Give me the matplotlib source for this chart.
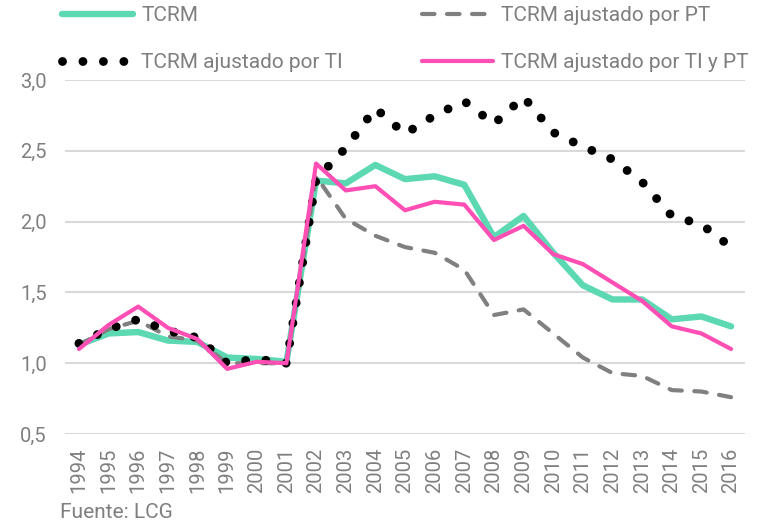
# TCRM y versiones ajustadas, 1994-2016

import matplotlib.pyplot as plt
from matplotlib.ticker import FixedLocator, FixedFormatter

# Data
years = list(range(1994, 2017))
tcrm = [1.13, 1.21, 1.22, 1.16, 1.15, 1.04, 1.03, 1.01, 2.29, 2.27, 2.40, 2.30,
        2.32, 2.26, 1.89, 2.04, 1.78, 1.55, 1.45, 1.45, 1.31, 1.33, 1.26]
tcrm_pt = [1.13, 1.24, 1.30, 1.19, 1.16, 1.00, 1.00, 1.00, 2.32, 2.02, 1.90, 1.82,
           1.78, 1.66, 1.34, 1.38, 1.21, 1.04, 0.93, 0.91, 0.81, 0.80, 0.76]
tcrm_ti = [1.14, 1.24, 1.31, 1.23, 1.18, 1.00, 1.03, 1.00, 2.30, 2.52, 2.80, 2.62,
           2.75, 2.85, 2.69, 2.88, 2.63, 2.53, 2.44, 2.28, 2.04, 1.98, 1.82]
tcrm_ti_pt = [1.10, 1.27, 1.40, 1.25, 1.17, 0.96, 1.01, 1.00, 2.41, 2.22, 2.25, 2.08,
              2.14, 2.12, 1.87, 1.97, 1.77, 1.70, 1.57, 1.44, 1.26, 1.21, 1.10]
y_ticks = [0.5, 1.0, 1.5, 2.0, 2.5, 3.0]
y_labels = ['0,5', '1,0', '1,5', '2,0', '2,5', '3,0']

plt.rcParams['font.family'] = ['Roboto', 'DejaVu Sans']
txt = '#7f7f7f'

fig = plt.figure(figsize=(7.67, 5.23), dpi=100)
ax = fig.add_axes([65 / 767, 1 - 434 / 523, 680 / 767, 354 / 523])

l_tcrm, = ax.plot(years, tcrm, color='#5cd9b3', lw=4.6, solid_capstyle='round',
                  label='TCRM', zorder=3)
l_pt, = ax.plot(years, tcrm_pt, color='#808080', lw=3, dashes=(3, 3),
                dash_capstyle='round', label='TCRM ajustado por PT', zorder=4)
l_ti, = ax.plot(years, tcrm_ti, color='black', lw=6.4, dashes=(0.001, 2.3),
                dash_capstyle='round', label='TCRM ajustado por TI', zorder=5)
l_tipt, = ax.plot(years, tcrm_ti_pt, color='#ff4fb4', lw=3, solid_capstyle='round',
                  label='TCRM ajustado por TI y PT', zorder=6)

ax.set_xlim(1993.53, 2016.47)
ax.set_ylim(0.5, 3.0)
ax.yaxis.set_major_locator(FixedLocator(y_ticks))
ax.yaxis.set_major_formatter(FixedFormatter(y_labels))
ax.set_xticks(years)
ax.set_xticklabels([str(y) for y in years], rotation=90)
ax.tick_params(axis='y', length=0, pad=13, labelsize=14.5, labelcolor=txt)
ax.tick_params(axis='x', length=0, pad=10, labelsize=14.5, labelcolor=txt)
ax.grid(axis='y', color='#d9d9d9', lw=1.5)
ax.set_axisbelow(True)
for s in ax.spines.values():
    s.set_visible(False)

# two single-column legends to place the columns like the original
leg_kw = dict(frameon=False, fontsize=15, handlelength=3.4, handletextpad=0.4,
              labelspacing=1.35, borderpad=0, borderaxespad=0, labelcolor=txt,
              loc='upper left')
fig.legend([l_tcrm, l_ti], ['TCRM', 'TCRM ajustado por TI'],
           bbox_to_anchor=(62 / 767, 1 - 6 / 523), **leg_kw)
fig.legend([l_pt, l_tipt], ['TCRM ajustado por PT', 'TCRM ajustado por TI y PT'],
           bbox_to_anchor=(422 / 767, 1 - 6 / 523), **leg_kw)

fig.text(60 / 767, 1 - 512 / 523, 'Fuente: LCG', fontsize=15, color=txt, va='center')

fig.savefig('out.png', dpi=100)
